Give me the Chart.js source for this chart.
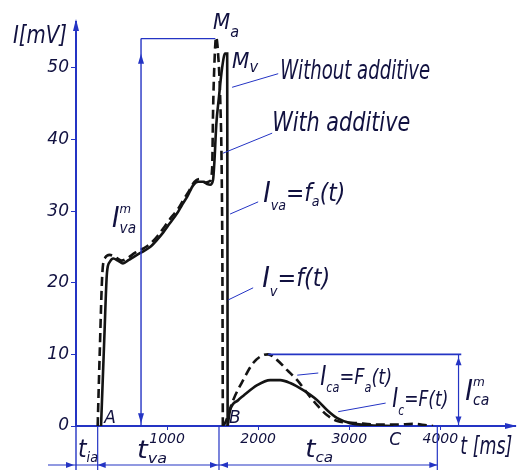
<!DOCTYPE html>
<html>
<head>
<meta charset="utf-8">
<script src="https://cdn.jsdelivr.net/npm/chart.js@4"></script>
<style>
  html, body { margin: 0; padding: 0; background: #fff; }
  #wrap { width: 525px; height: 473px; }
</style>
</head>
<body>
<div id="wrap"><canvas id="myChart"></canvas></div>
<script>
// anodic phase, with additive (dashed) : I_va = f_a(t)
const vaTime    = [238, 260, 290, 320, 370, 430, 500, 560, 650, 740, 820, 900, 970, 1050, 1120, 1180, 1240, 1300, 1360, 1420, 1470, 1495, 1505, 1518, 1538, 1560, 1585, 1600, 1608, 1612];
const vaCurrent = [0, 10, 21.5, 23.5, 23.9, 23.6, 23.1, 23.4, 24.2, 24.8, 25.5, 26.6, 27.8, 29.2, 30.3, 31.6, 32.8, 34.1, 34.5, 34.0, 34.2, 36, 44, 50, 54.3, 52, 45, 35, 20, 0];
// anodic phase, without additive (solid) : I_v = f(t)
const vTime    = [275, 310, 340, 370, 410, 460, 516, 580, 670, 740, 813, 890, 956, 1030, 1110, 1170, 1220, 1286, 1340, 1396, 1440, 1473, 1505, 1520, 1540, 1570, 1604, 1637, 1660, 1665];
const vCurrent = [0, 12, 21.4, 22.9, 23.4, 23.1, 22.7, 23.2, 23.9, 24.4, 25, 26, 27, 28.3, 29.7, 31, 32, 33.6, 34.1, 34.1, 33.8, 33.7, 34.4, 37, 42, 46, 50, 52, 52, 0];
// cathodic phase, with additive (dashed) : I_ca = F_a(t)
const caTime    = [1612, 1640, 1725, 1835, 1945, 2055, 2110, 2209, 2319, 2429, 2538, 2648, 2758, 2868, 3088, 3308, 3527, 3700, 3850, 3920];
const caCurrent = [0, 0.5, 3.6, 6.4, 8.8, 9.9, 10, 9.2, 7.8, 6.4, 4.6, 2.9, 1.5, 0.7, 0.4, 0.2, 0.2, 0.3, 0.1, 0];
// cathodic phase, without additive (solid) : I_c = F(t)
const cTime    = [1665, 1692, 1780, 1835, 1989, 2132, 2242, 2352, 2495, 2648, 2758, 2868, 3011, 3231, 3484];
const cCurrent = [0, 2.2, 3.6, 4.2, 5.7, 6.4, 6.4, 6, 5, 3.6, 2.2, 1.1, 0.4, 0.1, 0];

const xTicks = [1000, 2000, 3000, 4000];
const yTicks = [0, 10, 20, 30, 40, 50];

const ink = '#111140';
const blue = '#2434c4';
const pen = '#141414';

let toPoints = (ts, vs) => ts.map((t, i) => ({ x: t, y: vs[i] }));

let curve = (data, dashed) => ({
  data: data,
  borderColor: pen,
  borderWidth: 2.6,
  borderDash: dashed ? [9, 5] : [],
  pointRadius: 0,
  fill: false,
  cubicInterpolationMode: 'monotone'
});

// draws a label made of pieces: [text, size, dy, noAdvance]
let rich = (ctx, parts, x, y, width) => {
  let total = 0;
  parts.forEach(p => {
    ctx.font = `italic ${p[1]}px "DejaVu Sans"`;
    if (!p[3]) total += ctx.measureText(p[0]).width;
  });
  const k = width ? width / total : 1;
  ctx.save();
  ctx.translate(x, y);
  ctx.scale(k, 1);
  ctx.fillStyle = ink;
  ctx.textBaseline = 'middle';
  ctx.textAlign = 'left';
  let cx = 0;
  parts.forEach(p => {
    ctx.font = `italic ${p[1]}px "DejaVu Sans"`;
    ctx.fillText(p[0], cx, p[2] || 0);
    if (!p[3]) cx += ctx.measureText(p[0]).width;
  });
  ctx.restore();
};

const sketchPlugin = {
  id: 'sketch',
  afterDatasetsDraw(chart) {
    const { ctx, scales: { x, y } } = chart;
    const px = v => x.getPixelForValue(v);
    const py = v => y.getPixelForValue(v);

    let line = (x1, y1, x2, y2, w) => {
      ctx.beginPath();
      ctx.moveTo(x1, y1);
      ctx.lineTo(x2, y2);
      ctx.lineWidth = w || 1.2;
      ctx.stroke();
    };
    let arrow = (tx, ty, dir, len) => {
      len = len || 8;
      const a = { r: 0, l: Math.PI, u: -Math.PI / 2, d: Math.PI / 2 }[dir];
      ctx.save();
      ctx.translate(tx, ty);
      ctx.rotate(a);
      ctx.beginPath();
      ctx.moveTo(0, 0);
      ctx.lineTo(-len, -3);
      ctx.lineTo(-len, 3);
      ctx.closePath();
      ctx.fill();
      ctx.restore();
    };

    ctx.save();
    ctx.strokeStyle = blue;
    ctx.fillStyle = blue;

    // axes arrows and extensions
    const x0 = px(0), y0 = py(0);
    line(x0, chart.chartArea.top, x0, chart.chartArea.top - 4, 2);
    arrow(x0, chart.chartArea.top - 6, 'u', 12);
    line(x0, y0, x0, 470, 1.4);
    line(chart.chartArea.right, y0, 512, y0, 2);
    arrow(517, y0, 'r', 12);

    // time dimension lines
    [238, 1570, 3967].forEach(t => line(px(t), y0, px(t), 470, 1.2));
    const dy = 465;
    line(48, dy, px(3967), dy, 1.2);
    arrow(x0 - 2, dy, 'r');
    arrow(px(238), dy, 'l');
    arrow(px(1570) - 1, dy, 'r');
    arrow(px(1570) + 1, dy, 'l');
    arrow(px(3967), dy, 'r');

    // I^m_va dimension
    line(px(714), py(54.1), px(1530), py(54.1), 1.4);
    line(px(714), py(54.1), px(714), py(0), 1.4);
    arrow(px(714), py(52), 'u', 10);
    arrow(px(714), py(0.4), 'd', 10);

    // I^m_ca dimension
    line(px(2110), py(10), px(4230), py(10), 1.6);
    line(px(4200), py(10), px(4200), py(0), 1.2);
    arrow(px(4200), py(9.6), 'u');
    arrow(px(4200), py(0.2), 'd');

    // leader lines
    line(px(1714), py(47.3), px(2220), py(49.2), 1);
    line(px(1615), py(38.1), px(2154), py(40.9), 1);
    line(px(1692), py(29.6), px(2000), py(31.3), 1);
    line(px(1670), py(17.6), px(1945), py(19.3), 1);
    line(px(2429), py(7.1), px(2660), py(7.4), 1);
    line(px(2879), py(2), px(3400), py(3.2), 1);
    ctx.restore();

    // labels
    rich(ctx, [['I[mV]', 24]], px(-692), py(54.3), 54);
    rich(ctx, [['M', 22], ['a', 16, 10]], px(1505), py(56.3), 26);
    rich(ctx, [['M', 22], ['v', 16, 6]], px(1714), py(50.8), 26);
    rich(ctx, [['Without additive', 26]], px(2242), py(49.4), 150);
    rich(ctx, [['With additive', 26]], px(2154), py(42.2), 138);
    rich(ctx, [['I', 28], ['va', 14, 12], ['=f', 24], ['a', 14, 8], ['(t)', 24]], px(2055), py(32.3), 82);
    rich(ctx, [['I', 28], ['v', 14, 12], ['=f(t)', 24]], px(2044), py(20.4), 68);
    rich(ctx, [['I', 26], ['ca', 14, 10], ['=F', 22], ['a', 14, 10], ['(t)', 22]], px(2681), py(6.7), 72);
    rich(ctx, [['I', 26], ['c', 14, 11], ['=F(t)', 22]], px(3473), py(3.6), 56);
    rich(ctx, [['I', 28], ['m', 13, -10, true], ['ca', 15, 9]], px(4275), py(4.7), 24);
    rich(ctx, [['I', 28], ['m', 13, -10, true], ['va', 15, 9]], px(396), py(28.8), 24);
    rich(ctx, [['A', 17]], px(310), py(1.1));
    rich(ctx, [['B', 17]], px(1680), py(1.1));
    rich(ctx, [['C', 17]], px(3440), py(-2));
    rich(ctx, [['t', 24], ['ia', 14, 8]], px(22), py(-3.4), 20);
    rich(ctx, [['t', 24], ['va', 14, 8]], px(670), py(-3.6), 30);
    rich(ctx, [['t', 24], ['ca', 14, 8]], px(2516), py(-3.4), 28);
    rich(ctx, [['t [ms]', 24]], px(4220), py(-3.1), 52);
  }
};

const chartSelect = document.getElementById('myChart');

var myChart = new Chart(chartSelect, {
  type: 'line',
  data: {
    datasets: [
      curve(toPoints(vaTime, vaCurrent), true),
      curve(toPoints(vTime, vCurrent), false),
      curve(toPoints(caTime, caCurrent), true),
      curve(toPoints(cTime, cCurrent), false)
    ]
  },
  options: {
    responsive: true,
    maintainAspectRatio: false,
    animation: false,
    layout: { padding: { top: 25, right: 10, left: 0, bottom: 0 } },
    plugins: { legend: { display: false }, tooltip: { enabled: false } },
    scales: {
      x: {
        type: 'linear',
        min: 0,
        max: 4820,
        afterFit: s => { s.height = 47; },
        afterBuildTicks: s => { s.ticks = xTicks.map(v => ({ value: v })); },
        grid: { display: true, drawOnChartArea: false, drawTicks: true, tickLength: 4, color: blue },
        border: { display: true, color: blue, width: 2 },
        ticks: { color: ink, padding: 1, maxRotation: 0, callback: v => String(v), font: { family: 'DejaVu Sans', style: 'italic', size: 14 } }
      },
      y: {
        min: 0,
        max: 56,
        afterFit: s => { s.width = 76; },
        afterBuildTicks: s => { s.ticks = yTicks.map(v => ({ value: v })); },
        grid: { display: true, drawOnChartArea: false, drawTicks: true, tickLength: 5, color: blue },
        border: { display: true, color: blue, width: 2 },
        ticks: { color: ink, padding: 2, callback: v => String(v), font: { family: 'DejaVu Sans', style: 'italic', size: 17 } }
      }
    }
  },
  plugins: [sketchPlugin]
});
</script>
</body>
</html>
